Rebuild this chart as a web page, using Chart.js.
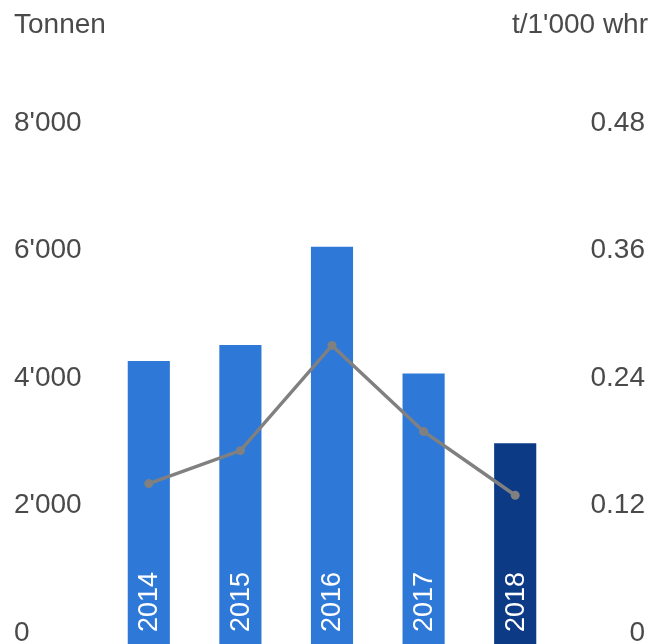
<!DOCTYPE html>
<html>
<head>
<meta charset="utf-8">
<script src="https://cdn.jsdelivr.net/npm/chart.js@4/dist/chart.umd.min.js"></script>
<style>
  html, body { margin: 0; padding: 0; background: #ffffff; }
  #wrap { position: relative; width: 669px; height: 644px; }
</style>
</head>
<body>
<div id="wrap"><canvas id="c" width="669" height="644"></canvas></div>
<script>
const categories = ['2014', '2015', '2016', '2017', '2018'];
const tonnen = [4440, 4690, 6230, 4245, 3150];
const perThousand = [0.151, 0.182, 0.281, 0.200, 0.140];
const leftTicks = [0, 2000, 4000, 6000, 8000];
const rightTicks = [0, 0.12, 0.24, 0.36, 0.48];
const leftTitle = 'Tonnen';
const rightTitle = "t/1'000 whr";

const FONT = '"Liberation Sans", Arial, Helvetica, sans-serif';
const TEXT = '#4a4a4a';
const BLUE = '#2e78d7';
const DARK = '#0c3a85';
const GREY = '#808080';

function fmtThousands(v) {
  return String(Math.round(v)).replace(/\B(?=(\d{3})+(?!\d))/g, "'");
}

const overlay = {
  id: 'overlay',
  afterDatasetsDraw(chart) {
    const ctx = chart.ctx;
    const meta = chart.getDatasetMeta(1);
    ctx.save();
    ctx.fillStyle = '#ffffff';
    ctx.font = '27px ' + FONT;
    ctx.textAlign = 'left';
    ctx.textBaseline = 'middle';
    meta.data.forEach((bar, i) => {
      ctx.save();
      ctx.translate(bar.x, bar.base - 12);
      ctx.rotate(-Math.PI / 2);
      ctx.fillText(categories[i], 0, 1);
      ctx.restore();
    });
    ctx.restore();
  },
  afterDraw(chart) {
    const ctx = chart.ctx;
    ctx.save();
    ctx.fillStyle = TEXT;
    ctx.font = '28px ' + FONT;
    ctx.textBaseline = 'alphabetic';
    ctx.textAlign = 'left';
    ctx.fillText(leftTitle, 14, 33);
    ctx.textAlign = 'right';
    ctx.fillText(rightTitle, 648, 33);
    ctx.restore();
  }
};

new Chart(document.getElementById('c'), {
  data: {
    labels: categories,
    datasets: [
      {
        type: 'line',
        data: perThousand,
        yAxisID: 'yR',
        borderColor: GREY,
        backgroundColor: GREY,
        borderWidth: 3.5,
        pointRadius: 4.5,
        pointBackgroundColor: GREY,
        pointBorderWidth: 0,
        tension: 0,
        order: 0
      },
      {
        type: 'bar',
        data: tonnen,
        yAxisID: 'yL',
        backgroundColor: categories.map((c, i) => i === categories.length - 1 ? DARK : BLUE),
        borderWidth: 0,
        categoryPercentage: 1,
        barPercentage: 0.46,
        order: 1
      }
    ]
  },
  options: {
    responsive: false,
    animation: false,
    devicePixelRatio: 1,
    layout: { autoPadding: false, padding: { left: 14, right: 24, top: 134, bottom: 0 } },
    plugins: { legend: { display: false }, tooltip: { enabled: false }, title: { display: false } },
    scales: {
      x: { display: false, offset: true },
      yL: {
        position: 'left',
        min: 0, max: 8000,
        grid: { display: false, drawTicks: false },
        border: { display: false },
        afterBuildTicks(s) { s.ticks = leftTicks.map(v => ({ value: v })); },
        afterFit(s) { s.width = 89; s.paddingTop = 0; s.paddingBottom = 0; },
        ticks: {
          padding: 21,
          crossAlign: 'far',
          labelOffset: -11,
          color: TEXT,
          font: { family: FONT, size: 28 },
          callback: v => fmtThousands(v)
        }
      },
      yR: {
        position: 'right',
        min: 0, max: 0.48,
        grid: { display: false, drawTicks: false },
        border: { display: false },
        afterBuildTicks(s) { s.ticks = rightTicks.map(v => ({ value: v })); },
        afterFit(s) { s.width = 84; s.paddingTop = 0; s.paddingBottom = 0; },
        ticks: {
          padding: 29.5,
          crossAlign: 'far',
          labelOffset: -11,
          color: TEXT,
          font: { family: FONT, size: 28 },
          callback: v => (v === 0 ? '0' : Number(v).toFixed(2))
        }
      }
    }
  },
  plugins: [overlay]
});
</script>
</body>
</html>
